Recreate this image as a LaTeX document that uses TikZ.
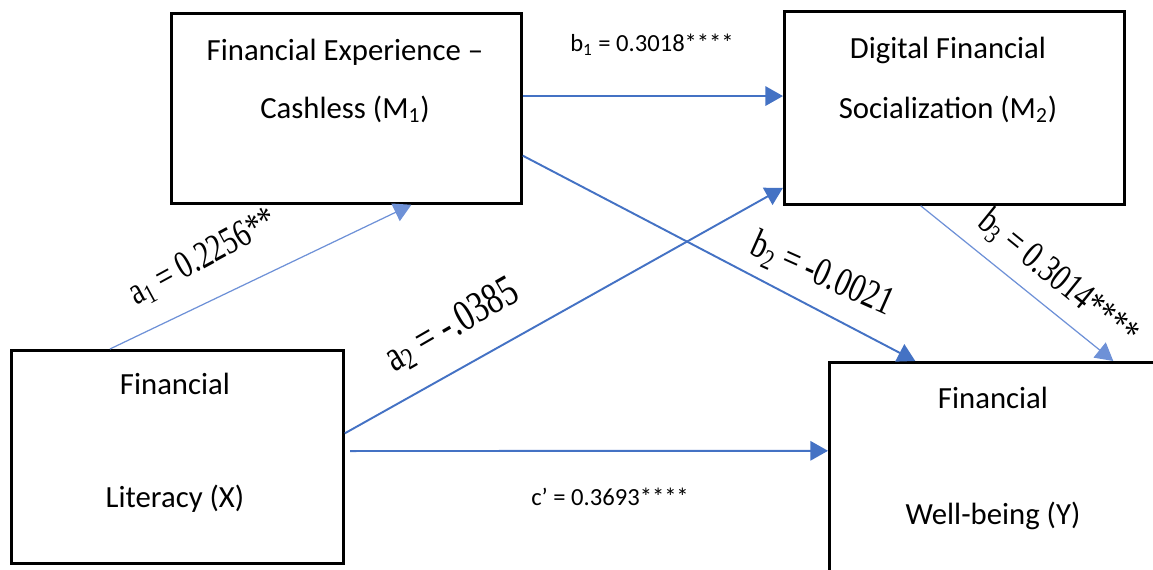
\documentclass[tikz,border=0pt]{standalone}
\usepackage{fontspec}
\setmainfont{Carlito}
\newfontfamily\estfont{Liberation Serif}
\usetikzlibrary{arrows.meta}
\definecolor{pathblue}{RGB}{68,114,196}
\definecolor{paleblue}{RGB}{110,145,215}
\newcommand{\estlabel}[2]{\scalebox{.75}[1]{\estfont\fontsize{#1}{#1}\selectfont #2}}

\begin{document}
\begin{tikzpicture}[x=0.02cm, y=-0.02cm,
  box/.style={draw, line width=1.6pt, anchor=north west, inner sep=0pt},
  boxtext/.style={align=center, font=\fontsize{17.5}{#1}\selectfont},
  link/.style={draw=pathblue, line width=1.1pt, -{Triangle[length=10pt,width=11pt]}},
  thinlink/.style={draw=paleblue, line width=0.7pt},
  coef/.style={font=\fontsize{14}{16}\selectfont},
  est/.style={inner sep=0pt}]
\useasboundingbox (0,0) rectangle (1153,570);
\clip (0,0) rectangle (1153,570);

% boxes
\node (m1) [box, minimum width=7cm, minimum height=3.8cm] at (170,12) {};
\node (m2) [box, minimum width=6.8cm, minimum height=3.86cm] at (783,10) {};
\node (x) [box, minimum width=6.64cm, minimum height=4.26cm] at (10,349) {};
\node (y) [box, minimum width=8cm, minimum height=6cm] at (828,361) {};

\node (m1t) [boxtext=33pt] at (345,81) {Financial Experience \textendash\\Cashless (M\textsubscript{1})};
\node (m2t) [boxtext=34pt] at (948,80) {Digital Financial\\Socialization (M\textsubscript{2})};
\node (xt) [boxtext=64pt] at (175,443) {Financial\\Literacy (X)};
\node (yt) [boxtext=66pt] at (993,458) {Financial\\Well-being (Y)};

% paths
\draw [link, thinlink] (x.122) -- (m1.-56);
\draw [link] (x.8.7) -- (m2.205);
\draw [link, shorten <=3pt] (x.2.9) -- (y.163.6);
\draw [link] (m1.4) -- (m1.4 -| m2.west);
\draw [link] (m1.-15.6) -- (y.127.7);
\draw [link, thinlink] (m2.-109) -- (y.61.3);

% coefficients
\node (b1) [coef] at (652,45) {b\textsubscript{1} = 0.3018****};
\node (cp) [coef] at (610,497) {c’ = 0.3693****};
\node (a1) [est, rotate=28.5] at (203,258) {\estlabel{22}{a\textsubscript{1} = 0.2256**}};
\node (a2) [est, rotate=30] at (452,326) {\estlabel{25}{a\textsubscript{2} = -.0385}};
\node (b2) [est, rotate=-24] at (822,275) {\estlabel{23}{b\textsubscript{2} = -0.0021}};
\node (b3) [est, rotate=-39] at (1058,278) {\estlabel{22}{b\textsubscript{3} = 0.3014****}};
\end{tikzpicture}
\end{document}
